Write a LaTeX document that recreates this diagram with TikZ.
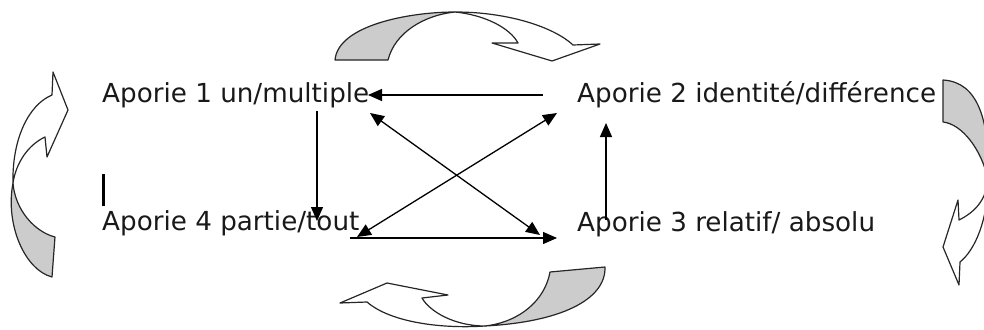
\documentclass[tikz,border=0pt]{standalone}
\usepackage{fontspec}
\setmainfont{DejaVu Sans}
\usetikzlibrary{arrows.meta}
\begin{document}
\begin{tikzpicture}[x=1pt,y=-1pt,
  lbl/.style={anchor=base west, inner sep=0pt, text=black!90, font=\fontsize{26.2}{30}\selectfont},
  tipk/.tip={Triangle[length=14pt,width=12pt]},
  con/.style={line width=1.3pt, -tipk},
  biarr/.style={line width=1.3pt, tipk-tipk},
  band/.style={draw=black!85, line width=1.2pt, line join=round},
  shade/.style={band, fill=black!20},
  blank/.style={band, fill=white}]
\useasboundingbox (0,0) rectangle (984,329);
% labels
\node[lbl] (a1) at (102,102) {Aporie 1 un/multiple};
\node[lbl] (a2) at (577,102) {Aporie 2 identité/différence};
\node[lbl] (a3) at (577,231) {Aporie 3 relatif/ absolu};
\node[lbl] (a4) at (102,230) {Aporie 4 partie/tout};
% text cursor
\draw[line width=3.2pt] (103.5,174) -- (103.5,206);
% connector ends
\coordinate (a2w) at (543,95);
\coordinate (a1e) at (368,95);
\coordinate (a1s) at (317,111);
\coordinate (a4n) at (317,221);
\coordinate (a4e) at (357,237);
\coordinate (a2sw) at (557,113);
\coordinate (a1se) at (370,113);
\coordinate (a3nw) at (540,235);
\coordinate (a4b) at (350,238);
\coordinate (a3w) at (557,238);
\coordinate (a3n) at (606,220);
\coordinate (a2s) at (606,123);
\draw[con] (a2w) -- (a1e);
\draw[con] (a1s) -- (a4n);
\draw[biarr] (a4e) -- (a2sw);
\draw[biarr] (a1se) -- (a3nw);
\draw[con] (a4b) -- (a3w);
\draw[con] (a3n) -- (a2s);
% top curved arrow
\path[shade] (335,60) .. controls (338,25) and (410,12) .. (455,12)
  .. controls (425,15) and (395,32) .. (388,60) -- cycle;
\path[blank] (455,12) .. controls (510,12) and (555,28) .. (573,45)
  -- (600,44) -- (552,61) -- (492,43) -- (518,43)
  .. controls (510,28) and (485,15) .. (455,12) -- cycle;
% bottom curved arrow
\path[shade] (485,326) .. controls (560,322) and (606,300) .. (605,267)
  -- (550,272) .. controls (545,300) and (520,322) .. (485,326) -- cycle;
\path[blank] (485,326) .. controls (440,329) and (390,322) .. (367,302)
  -- (340,303) -- (387,283) -- (448,295) -- (422,298)
  .. controls (430,312) and (455,326) .. (485,326) -- cycle;
% left curved arrow
\path[blank] (13,183) .. controls (12,140) and (28,105) .. (52,95)
  -- (53,72) -- (68,110) -- (47,157) -- (45,137)
  .. controls (28,145) and (16,163) .. (13,183) -- cycle;
\path[shade] (13,183) .. controls (5,225) and (25,270) .. (52,277)
  -- (55,237) .. controls (35,232) and (15,210) .. (13,183) -- cycle;
% right curved arrow
\path[shade] (943,80) .. controls (978,82) and (990,120) .. (988,180)
  .. controls (982,150) and (962,124) .. (943,122) -- cycle;
\path[blank] (988,180) .. controls (988,220) and (975,250) .. (960,262)
  -- (959,285) -- (943,247) -- (958,200) -- (959,220)
  .. controls (975,212) and (986,200) .. (988,180) -- cycle;
\end{tikzpicture}
\end{document}
